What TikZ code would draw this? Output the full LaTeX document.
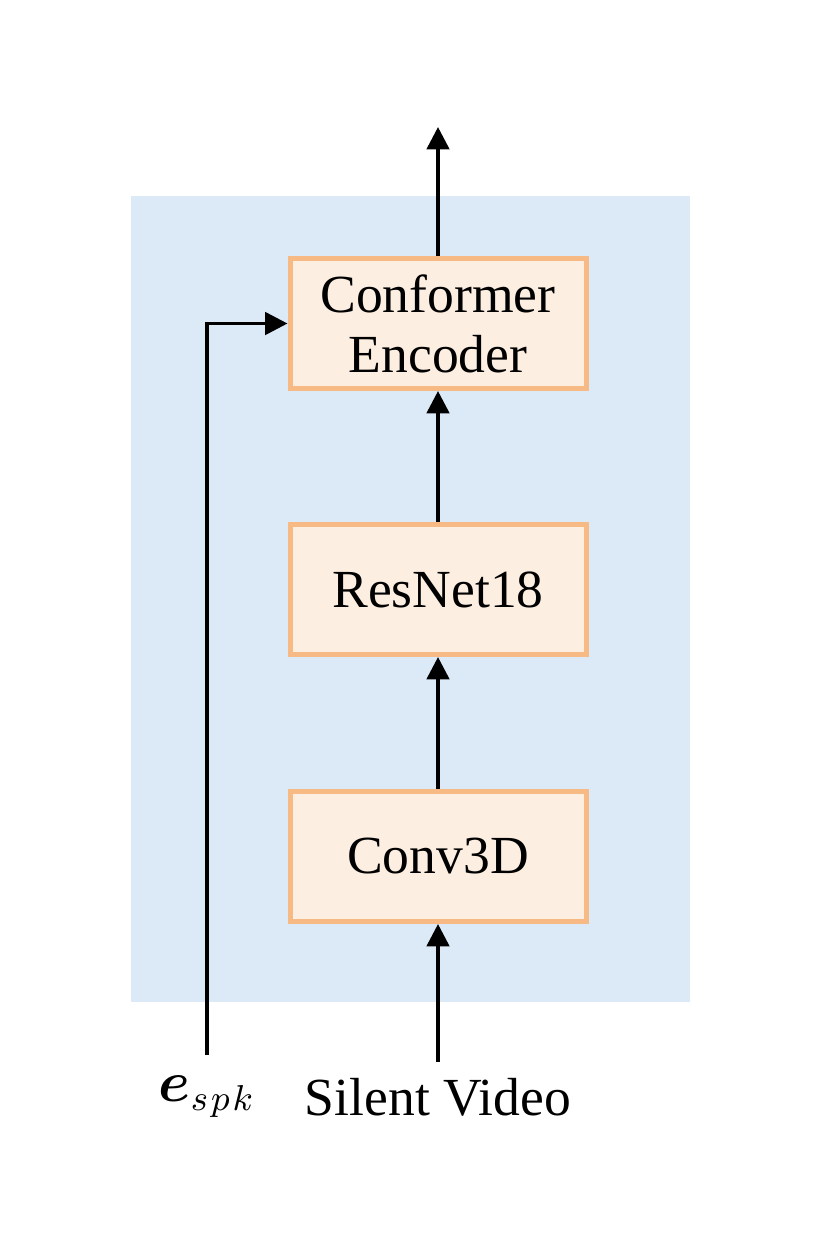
\documentclass[tikz,border=0pt]{standalone}
\usepackage{fontspec}
\usepackage{amsmath}
\usepackage{bm}
\setmainfont{Liberation Serif}
\usetikzlibrary{arrows.meta}

\definecolor{bgblue}{HTML}{DCE9F6}
\definecolor{blockline}{HTML}{F8BA85}
\definecolor{blockfill}{HTML}{FCEEE0}

\begin{document}
\begin{tikzpicture}[x=0.25pt,y=-0.25pt,line width=0.9pt,>={Triangle[length=5.6pt,width=5.6pt]},
  block/.style={draw=blockline,fill=blockfill,line width=1.25pt,inner sep=0pt,
    minimum width=74pt,minimum height=32.5pt,align=center,
    font=\fontsize{13.4}{15}\selectfont}]
  \useasboundingbox (0,0) rectangle (813,1255);
  % fondo
  \fill[bgblue] (131,196) rectangle (690,1002);
  % bloques
  \node[block] (conv) at (438,856.5) {Conv3D};
  \node[block] (resnet) at (438,589.5) {ResNet18};
  \node[block] (conformer) at (438,323.5) {Conformer\\Encoder};
  % entradas
  \node[font=\fontsize{13.4}{15}\selectfont] (video) at (438,1097) {Silent Video};
  \node[font=\fontsize{13.4}{15}\selectfont] (spk) at (207,1097) {$\bm{e}_{s\mkern1.5mu p\mkern1.5mu k}$};
  \coordinate (vidin) at (438,1062);
  \coordinate (spkin) at (207,1055);
  \coordinate (out) at (438,127);
  % flechas
  \draw[->] (vidin) -- (conv.south);
  \draw[->] (conv) -- (resnet);
  \draw[->] (resnet) -- (conformer);
  \draw[->] (conformer) -- (out);
  \draw[->] (spkin) |- (conformer.west);
\end{tikzpicture}
\end{document}
